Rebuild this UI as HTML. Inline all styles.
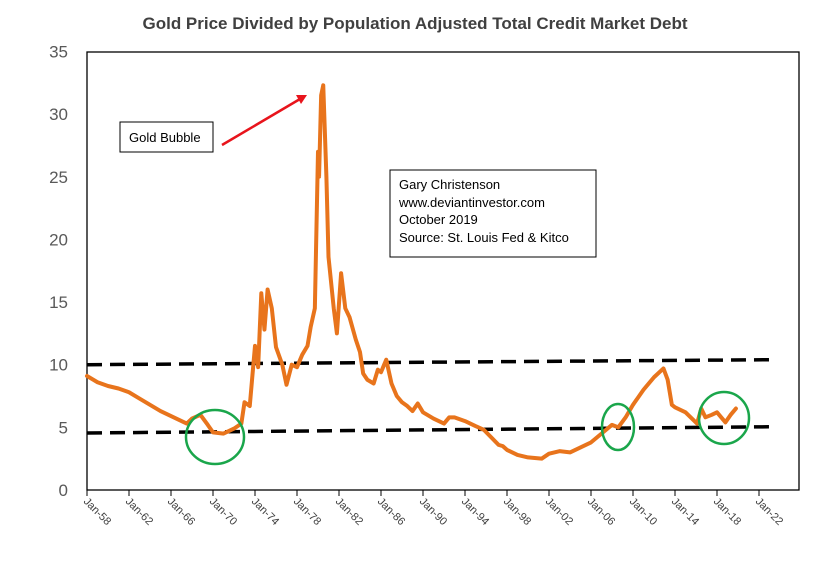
<!DOCTYPE html>
<html><head><meta charset="utf-8"><style>
body{margin:0;background:#fff;}
svg text{font-family:"Liberation Sans",sans-serif;}
</style></head><body>
<svg width="830" height="556" viewBox="0 0 830 556">
<rect x="0" y="0" width="830" height="556" fill="#fff"/>
<text x="415" y="29" text-anchor="middle" font-size="17" font-weight="bold" fill="#404040">Gold Price Divided by Population Adjusted Total Credit Market Debt</text>
<rect x="87" y="52" width="712" height="438" fill="none" stroke="#000" stroke-width="1.3"/>
<g id="yt"></g><g id="xt"></g><g id="trend"></g><g id="series"></g>
<g id="notes">
<ellipse cx="215" cy="437" rx="29" ry="27" fill="none" stroke="#1aa64b" stroke-width="2.5"/>
<ellipse cx="618" cy="427" rx="16" ry="23" fill="none" stroke="#1aa64b" stroke-width="2.5"/>
<ellipse cx="724" cy="418" rx="25" ry="26" fill="none" stroke="#1aa64b" stroke-width="2.5"/>
<line x1="222" y1="145" x2="300" y2="99" stroke="#e8141c" stroke-width="2.5"/>
<polygon points="307,95 296,95 301,104" fill="#e8141c"/>
<rect x="120" y="122" width="93" height="30" fill="#fff" stroke="#000"/>
<text x="129" y="142" font-size="13" fill="#000">Gold Bubble</text>
<rect x="390" y="170" width="206" height="87" fill="#fff" stroke="#000"/>
<text font-size="13" fill="#000">
<tspan x="399" y="189">Gary Christenson</tspan><tspan x="399" y="207">www.deviantinvestor.com</tspan><tspan x="399" y="224">October 2019</tspan><tspan x="399" y="242">Source: St. Louis Fed &amp; Kitco</tspan></text>
</g>
</svg>
<script>
const yTicks=[0,5,10,15,20,25,30,35];
const xTickYears=[1958,1962,1966,1970,1974,1978,1982,1986,1990,1994,1998,2002,2006,2010,2014,2018,2022];
const xTickLabels=["Jan-58","Jan-62","Jan-66","Jan-70","Jan-74","Jan-78","Jan-82","Jan-86","Jan-90","Jan-94","Jan-98","Jan-02","Jan-06","Jan-10","Jan-14","Jan-18","Jan-22"];
const years=[1958,1959,1960,1961,1962,1963,1964,1965,1966,1967,1967.5,1968,1968.8,1969.5,1970,1971,1972,1972.7,1973,1973.5,1974,1974.3,1974.6,1974.9,1975.2,1975.6,1976,1976.6,1977,1977.5,1978,1978.5,1979,1979.3,1979.7,1980,1980.1,1980.3,1980.5,1980.8,1981,1981.5,1981.8,1982.2,1982.6,1983,1983.6,1984,1984.3,1984.7,1985.3,1985.7,1986,1986.5,1987,1987.5,1988,1988.5,1989,1989.5,1990,1991,1992,1992.5,1993,1994,1995,1995.8,1996.5,1997.2,1997.6,1998,1999,2000,2001.3,2002,2003,2004,2005,2006,2007,2008,2008.6,2009.3,2010,2011,2012,2012.9,2013.3,2013.7,2014,2015,2016.1,2016.5,2016.9,2017.5,2018,2018.8,2019.3,2019.8];
const values=[9.1,8.6,8.3,8.1,7.8,7.3,6.8,6.3,5.9,5.5,5.3,5.7,6.0,5.2,4.6,4.5,4.9,5.3,7.0,6.7,11.5,9.8,15.7,12.8,16.0,14.5,11.4,10.0,8.4,10.0,9.8,10.8,11.5,13.0,14.5,27.0,25.0,31.5,32.3,25.0,18.6,14.5,12.5,17.3,14.5,13.8,12.0,11.0,9.3,8.8,8.5,9.6,9.4,10.4,8.5,7.5,7.0,6.7,6.3,6.9,6.2,5.7,5.3,5.8,5.8,5.5,5.1,4.8,4.2,3.6,3.5,3.2,2.8,2.6,2.5,2.9,3.1,3.0,3.4,3.8,4.5,5.2,5.0,5.8,6.8,8.0,9.0,9.7,8.8,6.8,6.6,6.2,5.3,6.5,5.8,6.0,6.2,5.4,6.0,6.5];
const trendYears=[1958,2023.5];
const upperTrend=[10.0,10.4];
const lowerTrend=[4.55,5.05];
const NS="http://www.w3.org/2000/svg";
const X=y=>87+(y-1958)*10.5;
const Y=v=>490-v*12.53;
function mk(t,a,p){const e=document.createElementNS(NS,t);for(const k in a)e.setAttribute(k,a[k]);document.getElementById(p).appendChild(e);return e;}
yTicks.forEach(v=>{
 const t=mk("text",{x:68,y:Y(v)+6,"text-anchor":"end","font-size":17,fill:"#595959"},"yt");
 t.textContent=v;
 
 
});
xTickYears.forEach((yr,i)=>{
 const l=mk("line",{x1:X(yr),y1:490,x2:X(yr),y2:496,stroke:"#000"},"xt");
 
 
 const t=mk("text",{x:X(yr)-4,y:502,"font-size":11,fill:"#404040",transform:`rotate(45 ${X(yr)-4} 502)`},"xt");
 t.textContent=xTickLabels[i];
 
 
});
[upperTrend,lowerTrend].forEach((tr,i)=>{
 const l=mk("line",{x1:X(trendYears[0]),y1:Y(tr[0]),x2:X(trendYears[1]),y2:Y(tr[1]),stroke:"#000","stroke-width":3.5,"stroke-dasharray":"15 8"},"trend");
 
 
});
const p=mk("polyline",{points:years.map((y,i)=>X(y)+","+Y(values[i])).join(" "),fill:"none",stroke:"#e8741c","stroke-width":4,"stroke-linejoin":"round","stroke-linecap":"round"},"series");


</script>
</body></html>
